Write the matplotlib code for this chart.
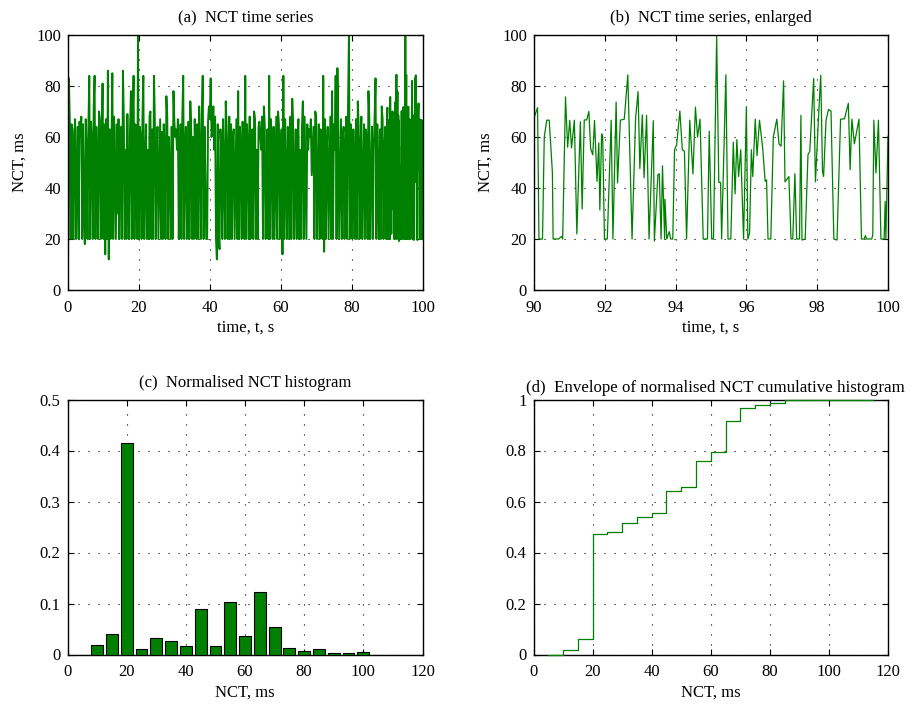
import numpy as np
import matplotlib
matplotlib.use("Agg")
import matplotlib.pyplot as plt

plt.rcParams['font.family'] = ['Liberation Serif', 'DejaVu Serif']
plt.rcParams['font.size'] = 12

# NCT, ms - whole record 0..90 s (4 readings per second)
nct_full = [
    11, 83, 67, 20, 65, 63, 20, 58, 67, 20, 45, 64, 20, 66, 60, 68,
    20, 65, 30, 18, 67, 55, 20, 63, 84, 20, 66, 58, 20, 72, 84, 20,
    64, 45, 20, 70, 67, 20, 55, 81,
    20, 65, 14, 67, 20, 86, 12, 63, 20, 55, 85, 20, 68, 45, 20, 65,
    30, 67, 20, 60, 64, 20, 86, 66, 20, 55, 20, 69, 40, 20, 63, 78,
    20, 67, 84, 20, 65, 55, 20, 100,
    20, 64, 60, 20, 67, 84, 20, 45, 65, 20, 55, 20, 68, 70, 20, 63,
    20, 84, 66, 20, 55, 64, 20, 45, 67, 20, 62, 20, 65, 55, 20, 76,
    68, 20, 60, 45, 20, 64, 20, 78,
    66, 60, 63, 55, 67, 20, 45, 65, 20, 68, 84, 20, 55, 64, 20, 35,
    66, 20, 74, 63, 20, 60, 20, 67, 45, 20, 65, 20, 72, 55, 20, 68,
    84, 20, 64, 45, 20, 20, 66, 72,
    67, 83, 60, 64, 72, 55, 68, 20, 12, 65, 20, 16, 63, 55, 20, 67,
    45, 20, 74, 64, 20, 55, 68, 20, 65, 20, 60, 63, 20, 45, 67, 20,
    78, 20, 64, 55, 20, 66, 45, 20,
    84, 20, 65, 55, 20, 68, 20, 45, 63, 20, 70, 67, 20, 55, 20, 64,
    66, 60, 55, 68, 20, 72, 65, 20, 45, 63, 20, 84, 20, 67, 55, 20,
    64, 20, 45, 68, 20, 70, 65, 20,
    55, 63, 14, 84, 20, 67, 45, 20, 64, 55, 20, 68, 20, 75, 65, 20,
    45, 63, 20, 60, 67, 20, 55, 20, 64, 74, 20, 68, 45, 20, 65, 55,
    63, 60, 67, 45, 55, 64, 20, 70,
    68, 20, 45, 65, 20, 63, 55, 20, 84, 15, 67, 20, 55, 64, 20, 45,
    68, 20, 78, 20, 65, 55, 84, 20, 87, 63, 20, 45, 67, 20, 60, 64,
    20, 55, 68, 20, 72, 100, 20, 65,
    55, 20, 63, 45, 20, 67, 20, 74, 64, 20, 55, 68, 20, 45, 65, 20,
    63, 60, 20, 78, 67, 20, 45, 64, 20, 55, 68, 83, 20, 65, 45, 20,
    63, 20, 72, 67, 20, 55, 64, 20,
]

# last 10 s
t_zoom = [
    90.00, 90.10, 90.14, 90.24, 90.29, 90.36, 90.43, 90.52, 90.54, 90.62,
    90.69, 90.78, 90.81, 90.89, 90.95, 91.01, 91.06, 91.14, 91.21, 91.31,
    91.36, 91.42, 91.49, 91.55, 91.60, 91.66, 91.71, 91.78, 91.83, 91.86,
    91.91, 91.94, 91.99, 92.07, 92.18, 92.23, 92.32, 92.36, 92.44, 92.55,
    92.65, 92.77, 92.87, 92.94, 92.99, 93.06, 93.11, 93.18, 93.25, 93.37,
    93.40, 93.50, 93.54, 93.59, 93.63, 93.69, 93.70, 93.75, 93.82, 93.86,
    93.92, 93.97, 94.03, 94.12, 94.19, 94.25, 94.31, 94.40, 94.49, 94.56,
    94.62, 94.69, 94.78, 94.90, 94.95, 95.02, 95.07, 95.16, 95.22, 95.27,
    95.30, 95.42, 95.48, 95.56, 95.63, 95.68, 95.73, 95.78, 95.84, 95.92,
    96.00, 96.04, 96.09, 96.14, 96.18, 96.25, 96.30, 96.37, 96.46, 96.53,
    96.57, 96.61, 96.69, 96.76, 96.86, 96.92, 96.98, 97.05, 97.09, 97.20,
    97.26, 97.31, 97.37, 97.42, 97.50, 97.54, 97.57, 97.66, 97.74, 97.79,
    97.90, 97.95, 98.04, 98.10, 98.15, 98.18, 98.25, 98.32, 98.39, 98.47,
    98.56, 98.66, 98.77, 98.88, 98.93, 98.98, 99.05, 99.18, 99.25, 99.33,
    99.36, 99.40, 99.54, 99.57, 99.60, 99.66, 99.73, 99.80, 99.89, 99.92,
    99.94, 100.00,
]
nct_zoom = [
    67.5, 71.5, 20, 20, 60, 66.6, 66.6, 46, 20, 20,
    20, 21, 20, 75.7, 56, 66.5, 55.7, 66.6, 22, 66,
    31.8, 66.7, 66.7, 70, 55.5, 53, 66.5, 42.6, 57.7, 31.4,
    61.2, 60.3, 20, 20, 66.6, 20, 73.7, 42, 66.6, 67,
    84.4, 20, 67.5, 77.8, 47.6, 68.7, 44, 68.5, 20, 66.4,
    19.2, 45.2, 45.6, 20, 48.7, 20, 35.6, 20, 22.9, 20,
    20, 55, 57, 70.2, 55, 54.4, 20, 66.6, 45.5, 71.7,
    60, 67, 20, 20, 62.3, 20, 20, 99.7, 42.2, 42.2,
    20, 84.4, 20, 20, 58, 37.7, 59, 44.5, 55, 20,
    71.9, 20, 22.3, 55, 44.5, 67, 52.7, 66.6, 55.7, 42.6,
    43.2, 20, 20, 60, 67, 57.3, 56.4, 82, 42.4, 44.5,
    20, 20, 45.6, 20, 20, 68.5, 19.6, 20, 53.1, 54.4,
    83, 42.4, 68.5, 84.2, 46.5, 44.5, 66.6, 70.8, 70.2, 20,
    19.6, 67, 67.1, 73.2, 47.2, 67, 57.3, 67, 20, 20,
    21.3, 20, 20, 21.6, 66.6, 45.9, 66.6, 20, 20, 34.7,
    20, 60.3,
]

# normalised histogram, bins of 5 ms
bin_centres = [5, 10, 15, 20, 25, 30, 35, 40, 45, 50, 55, 60,
               65, 70, 75, 80, 85, 90, 95, 100, 105, 110, 115]
hist_vals = [0, 0.018, 0.041, 0.414, 0.011, 0.033, 0.026, 0.016, 0.090, 0.016,
             0.102, 0.037, 0.123, 0.053, 0.012, 0.006, 0.011, 0.002, 0.002,
             0.004, 0, 0, 0]
cum_vals = [0, 0.017, 0.059, 0.472, 0.482, 0.514, 0.540, 0.553, 0.643, 0.657,
            0.759, 0.795, 0.916, 0.967, 0.980, 0.987, 0.997, 0.998, 0.999,
            1.0, 1.0, 1.0, 1.0]

green = '#008000'
W, H = 911, 704


def matlab_axes(ax):
    ax.grid(True, linestyle=(0, (1, 8)), color='black', linewidth=0.8)
    ax.tick_params(direction='in', top=True, right=True, length=4, width=0.8,
                   labelsize=12)
    ax.tick_params(axis='x', pad=7)
    ax.tick_params(axis='y', pad=5)
    for s in ax.spines.values():
        s.set_linewidth(1.0)


fig = plt.figure(figsize=(W / 100, H / 100), dpi=100)


def box(l, r, t, b):
    return [l / W, 1 - b / H, (r - l) / W, (b - t) / H]


ax_a = fig.add_axes(box(68, 422.5, 35, 290))
ax_b = fig.add_axes(box(534, 888, 35, 290))
ax_c = fig.add_axes(box(67.5, 422.5, 399.5, 654.5))
ax_d = fig.add_axes(box(533.5, 888, 399.5, 654.5))

# (a) whole record
t_full = np.linspace(0, 90, len(nct_full), endpoint=False)
ax_a.plot(np.concatenate([t_full, t_zoom]), nct_full + nct_zoom,
          color=green, linewidth=1.4)
ax_a.set_xlim(0, 100)
ax_a.set_ylim(0, 100)
ax_a.set_xticks(np.arange(0, 101, 20))
ax_a.set_yticks(np.arange(0, 101, 20))
ax_a.set_title('(a)  NCT time series', fontsize=12, pad=9)
ax_a.set_xlabel('time, t, s', labelpad=3)
ax_a.set_ylabel('NCT, ms', labelpad=6)
matlab_axes(ax_a)

# (b) enlarged
ax_b.plot(t_zoom, nct_zoom, color=green, linewidth=0.9)
ax_b.set_xlim(90, 100)
ax_b.set_ylim(0, 100)
ax_b.set_xticks(np.arange(90, 101, 2))
ax_b.set_yticks(np.arange(0, 101, 20))
ax_b.set_title('(b)  NCT time series, enlarged', fontsize=12, pad=9)
ax_b.set_xlabel('time, t, s', labelpad=3)
ax_b.set_ylabel('NCT, ms', labelpad=6)
matlab_axes(ax_b)

# (c) histogram
ax_c.bar(bin_centres, hist_vals, width=4, color=green, edgecolor='black',
         linewidth=0.8, zorder=3)
ax_c.set_xlim(0, 120)
ax_c.set_ylim(0, 0.5)
ax_c.set_xticks(np.arange(0, 121, 20))
ax_c.set_yticks([0, 0.1, 0.2, 0.3, 0.4, 0.5])
ax_c.set_yticklabels(['0', '0.1', '0.2', '0.3', '0.4', '0.5'])
ax_c.set_title('(c)  Normalised NCT histogram', fontsize=12, pad=9)
ax_c.set_xlabel('NCT, ms', labelpad=3)
matlab_axes(ax_c)

# (d) cumulative envelope
ax_d.step(bin_centres, cum_vals, where='post', color=green, linewidth=0.9,
          clip_on=False, zorder=5)
ax_d.set_xlim(0, 120)
ax_d.set_ylim(0, 1)
ax_d.set_xticks(np.arange(0, 121, 20))
ax_d.set_yticks([0, 0.2, 0.4, 0.6, 0.8, 1])
ax_d.set_yticklabels(['0', '0.2', '0.4', '0.6', '0.8', '1'])
# title in the original is not centred and runs off the right edge
ax_d.text(526 / W, 1 - 392 / H,
          '(d)  Envelope of normalised NCT cumulative histogram',
          transform=fig.transFigure, ha='left', va='baseline', fontsize=12.2)
ax_d.set_xlabel('NCT, ms', labelpad=3)
matlab_axes(ax_d)

fig.savefig('out.png', dpi=100)
